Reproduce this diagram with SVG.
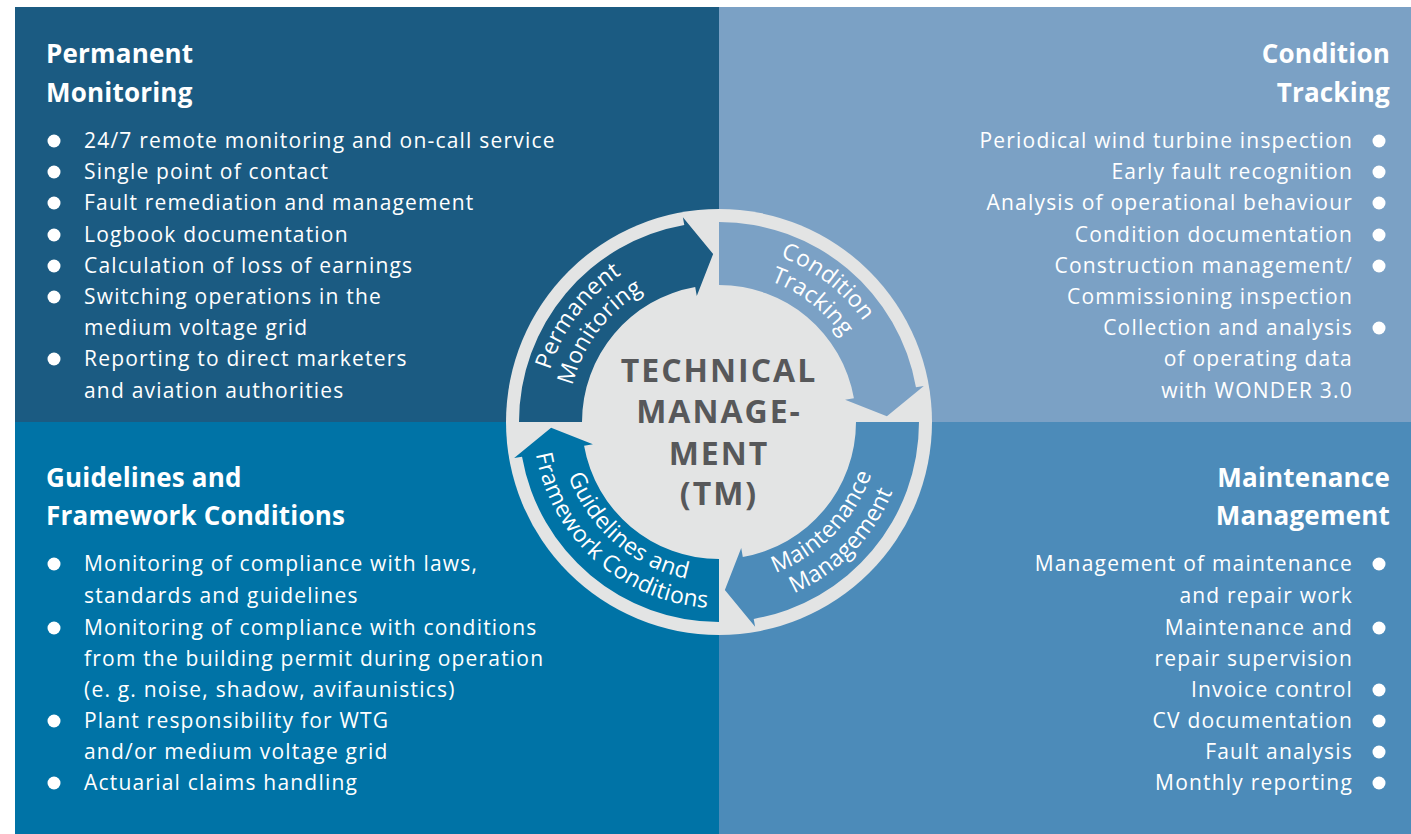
<svg xmlns="http://www.w3.org/2000/svg" width="1411" height="834" viewBox="0 0 1411 834">
<style>
.h{font-family:"Open Sans","Noto Sans",sans-serif;font-weight:700;font-size:26px;fill:#fff;letter-spacing:0.2px}
.t{font-family:"Open Sans","Noto Sans",sans-serif;font-size:21px;fill:#fff;letter-spacing:1.2px}
.r{text-anchor:end}
.b{fill:#fff}
.al{font-family:"Open Sans","Noto Sans",sans-serif;font-size:23px;fill:#fff;letter-spacing:0.3px;text-anchor:middle}
.c{font-family:"Open Sans","Noto Sans",sans-serif;font-weight:700;font-size:32px;fill:#57585a;letter-spacing:2px;text-anchor:middle}
</style>
<defs>
<path id="pm1" d="M -177,0 A 177 177 0 0 1 0,-177"/>
<path id="pm2" d="M -151,0 A 151 151 0 0 1 0,-151"/>
<path id="ct1" d="M 0,-176 A 176 176 0 0 1 176,0"/>
<path id="ct2" d="M 0,-150 A 150 150 0 0 1 150,0"/>
<path id="mm1" d="M 0,161 A 161 161 0 0 0 161,0"/>
<path id="mm2" d="M 0,187 A 187 187 0 0 0 187,0"/>
<path id="gf1" d="M -160,0 A 160 160 0 0 0 0,160"/>
<path id="gf2" d="M -186,0 A 186 186 0 0 0 0,186"/>
</defs>
<rect width="1411" height="834" fill="#fff"/>

<g id="permanent-monitoring">
<rect x="15" y="7" width="704" height="415" fill="#1b5b82"/>
<text class="h" x="46" y="63">Permanent</text>
<text class="h" x="46" y="102">Monitoring</text>
<circle class="b" cx="54" cy="141" r="6.5"/><text class="t" x="84" y="148">24/7 remote monitoring and on-call service</text>
<circle class="b" cx="54" cy="172" r="6.5"/><text class="t" x="84" y="179">Single point of contact</text>
<circle class="b" cx="54" cy="203" r="6.5"/><text class="t" x="84" y="210">Fault remediation and management</text>
<circle class="b" cx="54" cy="235" r="6.5"/><text class="t" x="84" y="242">Logbook documentation</text>
<circle class="b" cx="54" cy="266" r="6.5"/><text class="t" x="84" y="273">Calculation of loss of earnings</text>
<circle class="b" cx="54" cy="297" r="6.5"/><text class="t" x="84" y="304">Switching operations in the</text>
<text class="t" x="84" y="335">medium voltage grid</text>
<circle class="b" cx="54" cy="359" r="6.5"/><text class="t" x="84" y="366">Reporting to direct marketers</text>
<text class="t" x="84" y="398">and aviation authorities</text>
</g>

<g id="condition-tracking">
<rect x="719" y="7" width="692" height="415" fill="#7ba1c5"/>
<text class="h r" x="1390" y="63">Condition</text>
<text class="h r" x="1390" y="102">Tracking</text>
<text class="t r" x="1353" y="148">Periodical wind turbine inspection</text><circle class="b" cx="1379" cy="141" r="6.5"/>
<text class="t r" x="1353" y="179">Early fault recognition</text><circle class="b" cx="1379" cy="172" r="6.5"/>
<text class="t r" x="1353" y="210">Analysis of operational behaviour</text><circle class="b" cx="1379" cy="203" r="6.5"/>
<text class="t r" x="1353" y="242">Condition documentation</text><circle class="b" cx="1379" cy="235" r="6.5"/>
<text class="t r" x="1353" y="273">Construction management/</text><circle class="b" cx="1379" cy="266" r="6.5"/>
<text class="t r" x="1353" y="304">Commissioning inspection</text>
<text class="t r" x="1353" y="335">Collection and analysis</text><circle class="b" cx="1379" cy="328" r="6.5"/>
<text class="t r" x="1353" y="366">of operating data</text>
<text class="t r" x="1353" y="398">with WONDER 3.0</text>
</g>

<g id="guidelines-framework">
<rect x="15" y="422" width="704" height="412" fill="#0073a6"/>
<text class="h" x="46" y="487">Guidelines and</text>
<text class="h" x="46" y="525">Framework Conditions</text>
<circle class="b" cx="54" cy="564" r="6.5"/><text class="t" x="84" y="571">Monitoring of compliance with laws,</text>
<text class="t" x="84" y="603">standards and guidelines</text>
<circle class="b" cx="54" cy="628" r="6.5"/><text class="t" x="84" y="635">Monitoring of compliance with conditions</text>
<text class="t" x="84" y="666">from the building permit during operation</text>
<text class="t" x="84" y="697">(e. g. noise, shadow, avifaunistics)</text>
<circle class="b" cx="54" cy="721" r="6.5"/><text class="t" x="84" y="728">Plant responsibility for WTG</text>
<text class="t" x="84" y="759">and/or medium voltage grid</text>
<circle class="b" cx="54" cy="783" r="6.5"/><text class="t" x="84" y="790">Actuarial claims handling</text>
</g>

<g id="maintenance-management">
<rect x="719" y="422" width="692" height="412" fill="#4c8bb9"/>
<text class="h r" x="1390" y="487">Maintenance</text>
<text class="h r" x="1390" y="525">Management</text>
<text class="t r" x="1353" y="571">Management of maintenance</text><circle class="b" cx="1379" cy="564" r="6.5"/>
<text class="t r" x="1353" y="603">and repair work</text>
<text class="t r" x="1353" y="635">Maintenance and</text><circle class="b" cx="1379" cy="628" r="6.5"/>
<text class="t r" x="1353" y="666">repair supervision</text>
<text class="t r" x="1353" y="697">Invoice control</text><circle class="b" cx="1379" cy="690" r="6.5"/>
<text class="t r" x="1353" y="728">CV documentation</text><circle class="b" cx="1379" cy="721" r="6.5"/>
<text class="t r" x="1353" y="759">Fault analysis</text><circle class="b" cx="1379" cy="752" r="6.5"/>
<text class="t r" x="1353" y="790">Monthly reporting</text><circle class="b" cx="1379" cy="783" r="6.5"/>
</g>

<g id="technical-management" transform="translate(719,422)">
<circle r="213" fill="#e3e4e4"/>
<text class="c" y="-40">TECHNICAL</text>
<text class="c" y="1">MANAGE-</text>
<text class="c" y="43">MENT</text>
<text class="c" y="83">(TM)</text>
</g>

<g id="connectors" transform="translate(719,422)">
<path fill="#1b5b82" d="M -200,0 A 200 200 0 0 1 -34.73,-196.96 L -36.12,-204.84 L -5.86,-167.90 L -22.23,-126.06 L -23.79,-134.92 A 137 137 0 0 0 -137,0 Z"/>
<path fill="#7ba1c5" d="M 0,-200 A 200 200 0 0 1 196.96,-34.73 L 204.84,-36.12 L 167.90,-5.86 L 126.06,-22.23 L 134.92,-23.79 A 137 137 0 0 0 0,-137 Z"/>
<path fill="#4c8bb9" d="M 200,0 A 200 200 0 0 1 34.73,196.96 L 36.12,204.84 L 5.86,167.90 L 22.23,126.06 L 23.79,134.92 A 137 137 0 0 0 137,0 Z"/>
<path fill="#0073a6" d="M 0,200 A 200 200 0 0 1 -196.96,34.73 L -204.84,36.12 L -167.90,5.86 L -126.06,22.23 L -134.92,23.79 A 137 137 0 0 0 0,137 Z"/>
<text class="al"><textPath href="#pm1" startOffset="41%">Permanent</textPath></text>
<text class="al"><textPath href="#pm2" startOffset="41%">Monitoring</textPath></text>
<text class="al"><textPath href="#ct1" startOffset="42%">Condition</textPath></text>
<text class="al"><textPath href="#ct2" startOffset="42%">Tracking</textPath></text>
<text class="al"><textPath href="#mm1" startOffset="51%">Maintenance</textPath></text>
<text class="al"><textPath href="#mm2" startOffset="51%">Management</textPath></text>
<text class="al"><textPath href="#gf1" startOffset="54.5%">Guidelines and</textPath></text>
<text class="al"><textPath href="#gf2" startOffset="53.6%">Framework Conditions</textPath></text>
</g>
</svg>
